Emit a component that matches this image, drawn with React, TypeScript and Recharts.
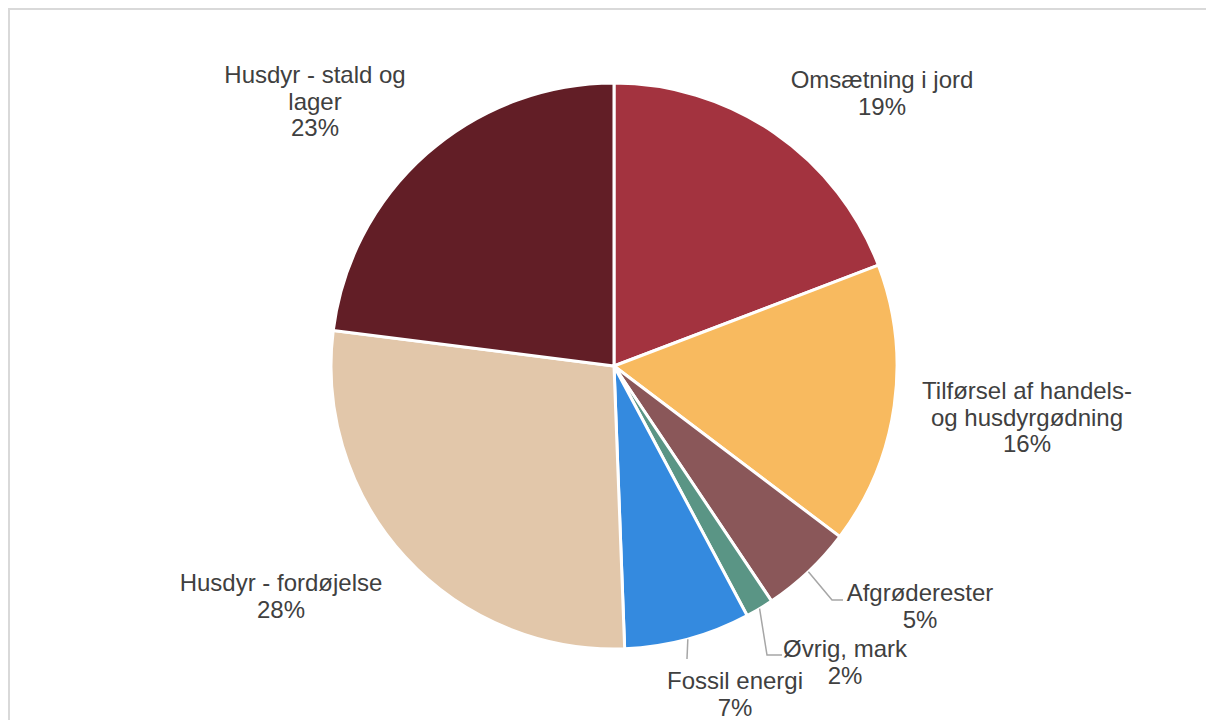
import { PieChart, Pie, Cell } from 'recharts';

// Emission sources, shares in percent
const categories = [
  'Omsætning i jord',
  'Tilførsel af handels- og husdyrgødning',
  'Afgrøderester',
  'Øvrig, mark',
  'Fossil energi',
  'Husdyr - fordøjelse',
  'Husdyr - stald og lager',
];
const shares = [19.2, 16.1, 5.3, 1.6, 7.2, 27.6, 23.0];
const colors = ['#A3333F', '#F8BA5F', '#8A5759', '#5A9585', '#348ADF', '#E2C7AA', '#621E26'];

// how each label is broken into lines
const labelLines = [
  ['Omsætning i jord'],
  ['Tilførsel af handels-', 'og husdyrgødning'],
  ['Afgrøderester'],
  ['Øvrig, mark'],
  ['Fossil energi'],
  ['Husdyr - fordøjelse'],
  ['Husdyr - stald og', 'lager'],
];

// label block centre relative to pie centre, plus leader line bends
const labelLayout = [
  { dx: 268, dy: -273, leader: null },
  { dx: 413, dy: 51, leader: null },
  { dx: 306, dy: 240, leader: [[218, 234], [229, 234]] },
  { dx: 231, dy: 296, leader: [[153, 289], [168, 289]] },
  { dx: 121, dy: 328, leader: [[73, 293]] },
  { dx: -333, dy: 230, leader: null },
  { dx: -299, dy: -265, leader: null },
];

const data = categories.map((name, i) => ({ name, value: shares[i] }));

const CX = 604;
const CY = 356;
const R = 283;
const FONT = 24;
const LINE_H = 26.5;
const RAD = Math.PI / 180;

const renderLabel = (props: any) => {
  const { index, midAngle, value } = props;
  const cx = props.cx ?? CX;
  const cy = props.cy ?? CY;
  const outer = props.outerRadius ?? R;
  const layout = labelLayout[index];
  const lines = [...labelLines[index], `${Math.round(value)}%`];
  const x = cx + layout.dx;
  const top = cy + layout.dy - ((lines.length - 1) * LINE_H) / 2;

  let leader = null;
  if (layout.leader) {
    const sx = cx + outer * Math.cos(-midAngle * RAD);
    const sy = cy + outer * Math.sin(-midAngle * RAD);
    const pts = [[sx, sy], ...layout.leader.map(([px, py]) => [cx + px, cy + py])];
    leader = (
      <polyline
        points={pts.map((p) => p.join(',')).join(' ')}
        fill="none"
        stroke="#A6A6A6"
        strokeWidth={1.5}
      />
    );
  }

  return (
    <g key={`label-${index}`}>
      {leader}
      {lines.map((line, li) => (
        <text
          key={li}
          x={x}
          y={top + li * LINE_H}
          textAnchor="middle"
          dominantBaseline="central"
          fill="#404040"
          fontSize={FONT}
          fontFamily="'Liberation Sans', Arial, sans-serif"
        >
          {line}
        </text>
      ))}
    </g>
  );
};

export default function App() {
  return (
    <div
      style={{
        width: 1206,
        height: 712,
        boxSizing: 'border-box',
        borderTop: '2px solid #d9d9d9',
        borderLeft: '2px solid #d9d9d9',
        background: '#fff',
        overflow: 'hidden',
      }}
    >
      <PieChart width={1204} height={710} margin={{ top: 0, right: 0, bottom: 0, left: 0 }}>
        <Pie
          data={data}
          dataKey="value"
          nameKey="name"
          cx={CX}
          cy={CY}
          outerRadius={R}
          startAngle={90}
          endAngle={-270}
          stroke="#ffffff"
          strokeWidth={3}
          label={renderLabel}
          labelLine={false}
          isAnimationActive={false}
        >
          {data.map((d, i) => (
            <Cell key={d.name} fill={colors[i]} />
          ))}
        </Pie>
      </PieChart>
    </div>
  );
}
